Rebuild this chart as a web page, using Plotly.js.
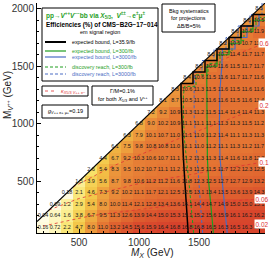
<!DOCTYPE html>
<html><head><meta charset="utf-8">
<script src="https://cdn.plot.ly/plotly-3.0.1.min.js"></script>
<style>html,body{margin:0;padding:0;background:#fff}</style>
</head><body><div id="chart" style="width:270px;height:259px"></div>
<script>
// ---------------- data ----------------
const mX = [200,300,400,500,600,700,800,900,1000,1100,1200,1300,1400,1500,1600,1700,1800,1900,2000];
const mV = [100,200,300,400,500,600,700,800,900,1000,1100,1200,1300,1400,1500,1600,1700,1800,1900,2000];
const pad = v => Array(mX.length - v.length).fill(null).concat(v);
// efficiency (%) per row of M_V (cells with M_X >= M_V)
const eff100 = pad([0.16,0.72,2.2,4.7,8.0,11.0,13.2,14.5,15.6,15.9,16.4,16.8,16.8,16.8,16.5,16.3,16.5,16.3,16.4]);
const eff200 = pad([0.04,0.64,1.6,3.8,6.7,9.5,11.3,12.6,13.9,14.4,15.0,15.3,15.1,15.2,15.6,15.9,16.1,16.2,16.2]);
const eff300 = pad([0.09,1.2,2.9,5.4,8.0,10.0,11.4,12.1,12.8,13.4,13.6,14.1,14.4,14.7,14.9,15.0,15.0,15.1]);
const eff400 = pad([0.18,2.1,4.6,7.3,9.2,10.2,11.1,11.7,12.1,12.5,12.5,13.1,13.4,13.5,13.6,13.9,14.3]);
const eff500 = pad([1.5,3.9,5.6,8.7,9.8,10.6,11.2,11.2,11.6,11.8,12.3,12.5,12.7,12.7,12.9,13.2]);
const eff600 = pad([2.6,5.4,8.3,9.5,10.2,10.7,11.1,11.2,11.3,11.5,11.5,11.7,12.2,12.3,12.5]);
const eff700 = pad([4.4,6.7,9.2,10.3,10.6,10.7,11.1,11.2,11.3,11.3,11.4,11.6,11.8,12.2]);
const eff800 = pad([6.1,7.5,9.8,10.8,10.8,11.0,11.1,11.0,11.2,11.1,11.3,11.2,11.7]);
const eff900 = pad([6.3,7.9,10.1,10.7,11.0,11.1,11.0,11.2,11.4,11.1,11.3,11.3]);
const eff1000 = pad([6.8,9.0,10.2,10.9,11.1,11.1,11.1,11.3,11.3,11.5,11.2]);
const eff1100 = pad([7.2,9.2,10.9,11.3,11.2,11.5,11.4,11.4,11.4,11.3]);
const eff1200 = pad([8.1,8.7,10.5,11.2,11.6,11.6,11.5,11.6,11.4]);
const eff1300 = pad([8.3,10.6,11.3,11.5,11.6,11.5,11.6,11.6]);
const eff1400 = pad([8.4,10.6,11.5,11.6,11.7,11.7,11.6]);
const eff1500 = pad([8.5,10.6,11.6,11.5,11.7,11.7]);
const eff1600 = pad([8.3,10.7,11.4,11.7,11.7]);
const eff1700 = pad([8.2,10.5,10.7,11.0]);
const eff1800 = pad([8.6,10.6,11.9]);
const eff1900 = pad([8.6,10.5]);
const eff2000 = pad([8.5]);
const effRows = [eff100,eff200,eff300,eff400,eff500,eff600,eff700,eff800,eff900,eff1000,
                 eff1100,eff1200,eff1300,eff1400,eff1500,eff1600,eff1700,eff1800,eff1900,eff2000];

// exclusion / discovery contours
const exp36X = [1410,1400,1385,1370,1360,1355,1350,1350,1450,1450,1550,1550,1650,1650,1750,1750,1850,1850,1950,1950,2050];
const exp36Y = [50,250,450,700,900,1100,1250,1350,1350,1450,1450,1550,1550,1650,1650,1750,1750,1850,1850,1950,1950];
const exp300X = [1620,1600,1580,1570,1565,1565,1565,1650,1650,1750,1750,1850,1850,1950,1950,2050];
const exp300Y = [50,250,500,700,1000,1300,1500,1500,1600,1600,1700,1700,1800,1800,1900,1900];
const exp3000X = [1735,1715,1695,1675,1670,1675,1690,1695,1800,1800,1900,1900,2000,2000,2050];
const exp3000Y = [50,250,450,700,1000,1300,1500,1650,1650,1750,1750,1850,1850,1950,1950];
const disc300X = [1455,1440,1420,1400,1380,1370,1370,1380,1475,1475,1575,1575,1675,1675,1775,1775,1875,1875,1975,1975,2050];
const disc300Y = [50,250,450,650,850,1050,1250,1325,1325,1425,1425,1525,1525,1625,1625,1725,1725,1825,1825,1925,1925];
const disc3000X = [1530,1515,1500,1485,1470,1460,1460,1465,1525,1525,1625,1625,1725,1725,1825,1825,1925,1925,2025,2025];
const disc3000Y = [50,250,450,650,850,1050,1300,1450,1450,1550,1550,1650,1650,1750,1750,1850,1850,1950,1950,2050];

// kappa contours
const kappaLabels = ["0.6","0.2","0.1","0.06","0.02"];
const kappaX = [[1450,1700,2050],[450,800,1400,2050],[250,500,1000,2050],[200,600,1200,2050],[900,1400,2050]];
const kappaY = [[1450,1560,1700],[450,640,900,1160],[250,350,480,670],[110,200,280,350],[50,90,130]];

// ---------------- build ----------------
const tX=[],tY=[],tT=[];
effRows.forEach((row,i)=>row.forEach((v,j)=>{ if(v!==null){ tX.push(mX[j]); tY.push(mV[i]); tT.push(v<1? v.toFixed(2): v.toFixed(1)); }}));

const GREEN='#1f9e1f', BLUE='#4a6cc4', RED='#e03434';
const traces = [
 {type:'heatmap', x:mX, y:mV, z:effRows, zmin:0, zmax:17, showscale:false, hoverinfo:'skip',
  colorscale:[[0,'#fffce8'],[0.06,'#fcf3a8'],[0.15,'#f8e26a'],[0.28,'#f3c648'],[0.42,'#eea43e'],[0.55,'#e98838'],[0.65,'#e57633'],[0.75,'#e06630'],[0.88,'#db502d'],[1,'#d6402b']]},
 {type:'scatter', x:[150,2050,150,150], y:[150,2050,2050,150], fill:'toself', fillcolor:'#ffffff', mode:'none', hoverinfo:'skip'},
];
kappaX.forEach((xs,k)=>traces.push({type:'scatter',mode:'lines',x:xs,y:kappaY[k],line:{color:RED,width:0.8,dash:'dot'},hoverinfo:'skip'}));
traces.push(
 {type:'scatter',mode:'lines',x:[150,2050],y:[150,2050],line:{color:'#000',width:1.2},hoverinfo:'skip'},
 {type:'scatter',mode:'lines',x:disc3000X,y:disc3000Y,line:{color:BLUE,width:1,dash:'3px,2px'},hoverinfo:'skip'},
 {type:'scatter',mode:'lines',x:disc300X,y:disc300Y,line:{color:GREEN,width:1,dash:'3px,2px'},hoverinfo:'skip'},
 {type:'scatter',mode:'lines',x:exp3000X,y:exp3000Y,line:{color:BLUE,width:1.2},hoverinfo:'skip'},
 {type:'scatter',mode:'lines',x:exp300X,y:exp300Y,line:{color:GREEN,width:1.2},hoverinfo:'skip'},
 {type:'scatter',mode:'lines',x:exp36X,y:exp36Y,line:{color:'#000',width:1.5},hoverinfo:'skip'},
 {type:'scatter',mode:'text',x:tX,y:tY,text:tT,textfont:{family:'Liberation Sans, Arial',size:5.5,color:'#1a1a1a'},hoverinfo:'skip'}
);

// pixel -> paper helpers (plot area: x 37..265, y 3..233)
const PL=37, PR=265, PT=3, PB=233;
const px = p => (p-PL)/(PR-PL);
const py = p => (PB-p)/(PB-PT);
const F='Liberation Sans, Arial, sans-serif';
const shapes=[], ann=[];
function box(x0,y0,x1,y1){ shapes.push({type:'rect',xref:'paper',yref:'paper',x0:px(x0),x1:px(x1),y0:py(y1),y1:py(y0),line:{color:'#000',width:1},fillcolor:'#fff',layer:'above'}); }
function seg(x0,x1,y,color,w,dash){ shapes.push({type:'line',xref:'paper',yref:'paper',x0:px(x0),x1:px(x1),y0:py(y),y1:py(y),line:{color:color,width:w,dash:dash||'solid'},layer:'above'}); }
function txt(x,y,t,o){ ann.push(Object.assign({xref:'paper',yref:'paper',x:px(x),y:py(y),text:t,showarrow:false,xanchor:'left',yanchor:'middle',font:{family:F,size:5.5,color:'#000'}},o||{})); }

box(42,8,158,81);
txt(44,15,'<b>pp→<i>V</i><sup>++</sup><i>V</i><sup>−−</sup>bb via <i>X</i><sub>5/3</sub>,  <i>V</i><sup>±±</sup>→e<sup>±</sup>μ<sup>±</sup></b>',{font:{family:F,size:6.5,color:GREEN}});
txt(44,25,'<b>Efficiencies (%) of CMS−B2G−17−014</b>',{font:{family:F,size:6.3,color:'#000'}});
txt(100,32,'em signal region',{xanchor:'center',font:{family:F,size:5.5,color:'#000'}});
seg(45,66,42,'#000',2); txt(70,42,'expected bound, L=35.9/fb',{font:{family:F,size:5.3,color:'#000'}});
seg(45,66,51,GREEN,1.2); txt(70,51,'expected bound, L=300/fb',{font:{family:F,size:5.3,color:GREEN}});
seg(45,66,57,BLUE,1.2); txt(70,57.5,'expected bound, L=3000/fb',{font:{family:F,size:5.3,color:BLUE}});
seg(45,66,67,GREEN,1,'3px,2px'); txt(70,67,'discovery reach, L=300/fb',{font:{family:F,size:5.3,color:GREEN}});
seg(45,66,74,BLUE,1,'3px,2px'); txt(70,74,'discovery reach, L=3000/fb',{font:{family:F,size:5.3,color:BLUE}});

box(162,4,215,32);
txt(188.5,11,'Bkg systematics',{xanchor:'center'});
txt(188.5,18,'for projections',{xanchor:'center'});
txt(188.5,26,'ΔB/B=5%',{xanchor:'center'});

box(42,86,88,96);
seg(45,57,91,RED,0.8,'dot');
txt(59,91,'<i>κ</i><sub><i>X</i>5/3 <i>V</i>++ e−</sub>',{font:{family:F,size:5.5,color:RED}});

box(92,86,153,105);
txt(122.5,91,'Γ/M=0.1%',{xanchor:'center'});
txt(122.5,99,'for both <i>X</i><sub>5/3</sub> and <i>V</i><sup>++</sup>',{xanchor:'center'});

box(42,105,88,118);
txt(65,111.5,'<i>g</i><sub><i>V</i>++ e+ μ+</sub>=0.19',{xanchor:'center'});

// kappa labels at right edge
kappaLabels.forEach((l,k)=>{ const ys=kappaY[k]; ann.push({xref:'paper',yref:'y',x:1.02,y:ys[ys.length-1],text:l,showarrow:false,xanchor:'right',yanchor:'middle',bgcolor:'#fff',borderpad:0.5,font:{family:F,size:6.5,color:RED}}); });

// axis titles
ann.push({xref:'paper',yref:'paper',x:px(152),y:py(253),text:'<i>M</i><sub><i>X</i></sub> (GeV)',showarrow:false,xanchor:'center',yanchor:'middle',font:{family:F,size:10,color:'#222'}});
ann.push({xref:'paper',yref:'paper',x:px(8),y:py(95),text:'M<sub><i>V</i><sup>++</sup></sub> (GeV)',showarrow:false,textangle:-90,xanchor:'center',yanchor:'middle',font:{family:F,size:10,color:'#222'}});

const axisCommon = {showgrid:false, zeroline:false, showline:true, linecolor:'#000', linewidth:1,
  ticks:'inside', ticklen:4, tickcolor:'#000', tickfont:{family:F,size:10,color:'#333'},
  minor:{ticks:'inside',ticklen:2,dtick:100,tickcolor:'#000'}};
const layout = {
  width:270, height:259, margin:{l:PL,r:270-PR,t:PT,b:259-PB},
  paper_bgcolor:'#fff', plot_bgcolor:'#fff', showlegend:false,
  xaxis:Object.assign({range:[150,2050],tickvals:[500,1000,1500,2000]},axisCommon),
  yaxis:Object.assign({range:[50,2050],tickvals:[500,1000,1500,2000]},axisCommon),
  shapes:shapes, annotations:ann
};
Plotly.newPlot('chart', traces, layout, {staticPlot:true, displayModeBar:false});
</script></body></html>
